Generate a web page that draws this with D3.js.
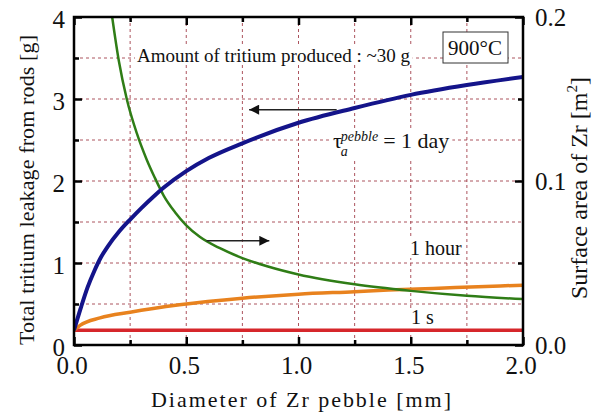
<!DOCTYPE html>
<html>
<head>
  <meta charset="utf-8">
  <title>Tritium leakage vs Zr pebble diameter</title>
  <script src="https://cdn.jsdelivr.net/npm/d3@7"></script>
  <style>
    body { margin: 0; background: #fff; }
    text { font-family: "Liberation Serif", "Times New Roman", serif; fill: #111; }
  </style>
</head>
<body>
  <svg width="602" height="416" id="mainsvg"></svg>
  <script>
    // data: [diameter mm, value]
    const leakDay = [[0, 0.18], [0.03, 0.45], [0.06, 0.7], [0.09, 0.9], [0.12, 1.07], [0.15, 1.2], [0.2, 1.38],
      [0.25, 1.53], [0.3, 1.67], [0.35, 1.8], [0.4, 1.92], [0.5, 2.12], [0.6, 2.28], [0.75, 2.46],
      [1.0, 2.71], [1.25, 2.89], [1.5, 3.05], [1.75, 3.17], [2.0, 3.27]];
    const leakHour = [[0, 0.18], [0.027, 0.24], [0.116, 0.33], [0.25, 0.4], [0.47, 0.49], [0.75, 0.57],
      [1.0, 0.62], [1.25, 0.65], [1.4, 0.67], [1.6, 0.69], [1.8, 0.71], [2.0, 0.73]];
    const leakSec = [[0, 0.18], [1.0, 0.18], [2.0, 0.18]];
    const zrArea = [[0.17, 0.2], [0.2, 0.173], [0.235, 0.15], [0.28, 0.129], [0.324, 0.113], [0.36, 0.102],
      [0.4, 0.091], [0.45, 0.081], [0.5, 0.073], [0.56, 0.066], [0.65, 0.059], [0.75, 0.053],
      [0.86, 0.048], [1.0, 0.043], [1.25, 0.037], [1.5, 0.033], [1.75, 0.03], [2.0, 0.028]];

    const xTicks = [0, 0.5, 1.0, 1.5, 2.0];
    const xMinor = [0.25, 0.75, 1.25, 1.75];
    const yTicks = [0, 1, 2, 3, 4];
    const yMinor = [0.5, 1.5, 2.5, 3.5];
    const y2Ticks = [0, 0.1, 0.2];
    const y2Minor = [0.05, 0.15];

    const svg = d3.select('#mainsvg');
    const margin = { top: 17, right: 79, bottom: 71, left: 74 };
    const innerWidth = +svg.attr('width') - margin.left - margin.right;
    const innerHeight = +svg.attr('height') - margin.top - margin.bottom;
    const g = svg.append('g').attr('transform', `translate(${margin.left}, ${margin.top})`);

    const x = d3.scaleLinear().domain([0, 2]).range([0, innerWidth]);
    const y = d3.scaleLinear().domain([0, 4]).range([innerHeight, 0]);
    const y2 = d3.scaleLinear().domain([0, 0.2]).range([innerHeight, 0]);

    // dashed grid
    const gridColor = '#a3414c';
    g.append('g').selectAll('line').data(d3.range(0.25, 2, 0.25)).join('line')
      .attr('x1', d => x(d)).attr('x2', d => x(d)).attr('y1', 0).attr('y2', innerHeight)
      .attr('stroke', gridColor).attr('stroke-width', 0.9).attr('stroke-dasharray', '3,3');
    g.append('g').selectAll('line').data(d3.range(0.5, 4, 0.5)).join('line')
      .attr('y1', d => y(d)).attr('y2', d => y(d)).attr('x1', 0).attr('x2', innerWidth)
      .attr('stroke', gridColor).attr('stroke-width', 0.9).attr('stroke-dasharray', '3,3');

    // annotations with white background
    const ann = g.append('g');
    function label(txt, px, py, size) {
      return ann.append('text').attr('x', px).attr('y', py).attr('font-size', size).text(txt);
    }
    function backing(t, pad) {
      const b = t.node().getBBox();
      ann.insert('rect', () => t.node())
        .attr('x', b.x - pad).attr('y', b.y + 2).attr('width', b.width + 2 * pad).attr('height', b.height - 3)
        .attr('fill', '#fff');
    }
    backing(label('Amount of tritium produced : ~30 g', 63, 45, 19), 2);
    backing(label('1 hour', 336, 238, 20), 2);
    backing(label('1 s', 337, 307, 20), 2);

    const tau = ann.append('text').attr('x', 259).attr('y', 131).attr('font-size', 22);
    tau.append('tspan').text('τ');
    tau.append('tspan').attr('font-size', 14).attr('font-style', 'italic').attr('dx', -1).attr('dy', 8).text('a');
    tau.append('tspan').attr('font-size', 14).attr('font-style', 'italic').attr('dx', -7).attr('dy', -15).text('pebble');
    tau.append('tspan').attr('dy', 7).attr('dx', 5).text('= 1 day');
    backing(tau, 3);

    // 900°C box
    const tempText = g.append('text').attr('x', 401).attr('y', 38).attr('font-size', 21)
      .attr('text-anchor', 'middle').text('900°C');
    g.insert('rect', () => tempText.node())
      .attr('x', 369).attr('y', 15).attr('width', 65).attr('height', 31)
      .attr('fill', '#fff').attr('stroke', '#333').attr('stroke-width', 1);

    // curves
    const clip = svg.append('clipPath').attr('id', 'plotclip');
    clip.append('rect').attr('width', innerWidth).attr('height', innerHeight);
    const curves = g.append('g').attr('clip-path', 'url(#plotclip)');
    const lineL = d3.line().x(d => x(d[0])).y(d => y(d[1])).curve(d3.curveMonotoneX);
    const lineR = d3.line().x(d => x(d[0])).y(d => y2(d[1])).curve(d3.curveMonotoneX);
    curves.append('path').datum(leakSec).attr('d', lineL)
      .attr('fill', 'none').attr('stroke', '#d6262b').attr('stroke-width', 3.5);
    curves.append('path').datum(leakHour).attr('d', lineL)
      .attr('fill', 'none').attr('stroke', '#e8821e').attr('stroke-width', 3.5);
    curves.append('path').datum(zrArea).attr('d', lineR)
      .attr('fill', 'none').attr('stroke', '#2f7d16').attr('stroke-width', 2.5);
    curves.append('path').datum(leakDay).attr('d', lineL)
      .attr('fill', 'none').attr('stroke', '#14148a').attr('stroke-width', 4);

    // arrows
    svg.append('defs').append('marker').attr('id', 'head')
      .attr('viewBox', '0 0 10 10').attr('refX', 10).attr('refY', 5)
      .attr('markerUnits', 'userSpaceOnUse').attr('markerWidth', 17).attr('markerHeight', 10)
      .attr('orient', 'auto')
      .append('path').attr('d', 'M0,0 L10,5 L0,10 Z').attr('fill', '#111');
    g.append('line').attr('x1', x(1.17)).attr('x2', x(0.78)).attr('y1', y(2.87)).attr('y2', y(2.87))
      .attr('stroke', '#222').attr('stroke-width', 1.5).attr('marker-end', 'url(#head)');
    g.append('line').attr('x1', x(0.59)).attr('x2', x(0.87)).attr('y1', y(1.27)).attr('y2', y(1.27))
      .attr('stroke', '#222').attr('stroke-width', 1.5).attr('marker-end', 'url(#head)');

    // axes with inward ticks
    function styleAxis(sel) {
      sel.select('.domain').remove();
      sel.selectAll('.tick line').attr('stroke', '#000').attr('stroke-width', 2.5);
      sel.selectAll('.tick text').attr('font-size', 25).attr('fill', '#111')
        .attr('font-family', '"Liberation Serif", "Times New Roman", serif');
    }
    function minor(sel) {
      styleAxis(sel);
      sel.selectAll('.tick text').remove();
    }
    g.append('g').call(d3.axisLeft(y).tickValues(yTicks).tickSize(-8).tickPadding(9).tickFormat(d3.format('d')))
      .call(styleAxis).selectAll('.tick text').attr('dy', '0.4em');
    g.append('g').call(d3.axisLeft(y).tickValues(yMinor).tickSize(-5)).call(minor);
    g.append('g').attr('transform', `translate(${innerWidth},0)`)
      .call(d3.axisRight(y2).tickValues(y2Ticks).tickSize(-8).tickPadding(12).tickFormat(d3.format('.1f')))
      .call(styleAxis).selectAll('.tick text').attr('dy', '0.35em');
    g.append('g').attr('transform', `translate(${innerWidth},0)`)
      .call(d3.axisRight(y2).tickValues(y2Minor).tickSize(-5)).call(minor);
    g.append('g').attr('transform', `translate(0,${innerHeight})`)
      .call(d3.axisBottom(x).tickValues(xTicks).tickSize(-8).tickPadding(11).tickFormat(d3.format('.1f')))
      .call(styleAxis).selectAll('.tick text').attr('dx', '-0.1em');
    g.append('g').attr('transform', `translate(0,${innerHeight})`)
      .call(d3.axisBottom(x).tickValues(xMinor).tickSize(-5)).call(minor);
    g.append('g').call(d3.axisTop(x).tickValues(xTicks).tickSize(-8)).call(minor);
    g.append('g').call(d3.axisTop(x).tickValues(xMinor).tickSize(-5)).call(minor);

    g.append('rect').attr('width', innerWidth).attr('height', innerHeight)
      .attr('fill', 'none').attr('stroke', '#000').attr('stroke-width', 2.5);

    // axis titles
    svg.append('text').attr('transform', 'translate(34,190) rotate(-90)')
      .attr('text-anchor', 'middle').attr('font-size', 22).attr('textLength', 310)
      .text('Total tritium leakage from rods [g]');
    const rt = svg.append('text').attr('transform', 'translate(587,188) rotate(-90)')
      .attr('text-anchor', 'middle').attr('font-size', 24);
    rt.append('tspan').text('Surface area of Zr  [m');
    rt.append('tspan').attr('font-size', 15).attr('dy', -10).text('2');
    rt.append('tspan').attr('dy', 10).text(']');
    svg.append('text').attr('x', 301).attr('y', 407)
      .attr('text-anchor', 'middle').attr('font-size', 22).attr('textLength', 300)
      .text('Diameter of Zr pebble [mm]');
  </script>
</body>
</html>
